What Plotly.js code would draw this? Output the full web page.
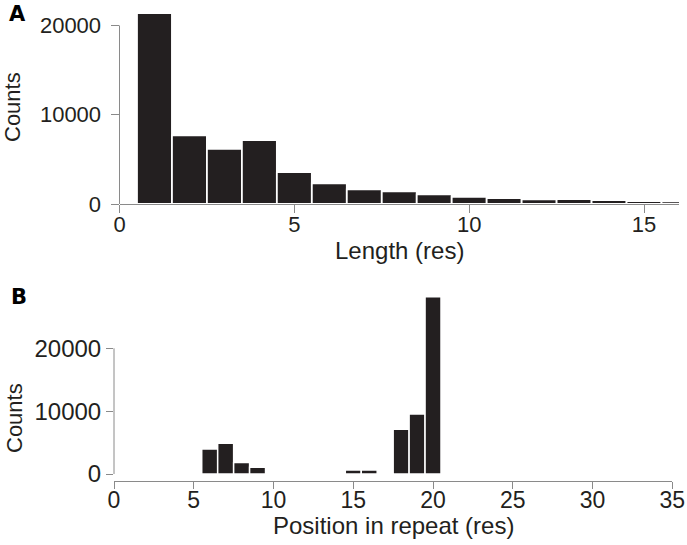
<!DOCTYPE html>
<html>
<head>
<meta charset="utf-8">
<script src="https://cdn.plot.ly/plotly-3.0.1.min.js"></script>
<style>
html,body{margin:0;padding:0;background:#fff;}
#chart{width:687px;height:545px;}
</style>
</head>
<body>
<div id="chart"></div>
<script>
// Panel A: length histogram
const lengthBins = [1, 2, 3, 4, 5, 6, 7, 8, 9, 10, 11, 12, 13, 14, 15, 16];
const lengthCounts = [21380, 7680, 6180, 7150, 3570, 2300, 1630, 1410, 1075, 810, 660, 510, 550, 435, 320, 290];
const lengthTicks = [0, 5, 10, 15];

// Panel B: position in repeat histogram
const positionBins = [6, 7, 8, 9, 15, 16, 18, 19, 20];
const positionCounts = [3990, 4900, 1820, 1075, 620, 620, 7120, 9560, 28190];
const positionTicks = [0, 5, 10, 15, 20, 25, 30, 35];

const countTicks = [0, 10000, 20000];
const countTickLabels = ['0', '10000', '20000'];

const barColor = '#231f20';
const axisColor = '#8a8a8a';
const textColor = '#231f20';
const fontFam = '"Liberation Sans", Arial, Helvetica, sans-serif';

const traces = [
  {
    type: 'bar', x: lengthBins, y: lengthCounts, width: 1,
    marker: {color: barColor, line: {color: '#ffffff', width: 1.8}},
    xaxis: 'x', yaxis: 'y', hoverinfo: 'x+y', showlegend: false
  },
  {
    type: 'bar', x: positionBins, y: positionCounts, width: 1,
    marker: {color: barColor, line: {color: '#ffffff', width: 1.5}},
    xaxis: 'x2', yaxis: 'y2', hoverinfo: 'x+y', showlegend: false
  }
];

const countMax = countTicks[countTicks.length - 1];

const layout = {
  width: 687, height: 545,
  margin: {l: 0, r: 0, t: 0, b: 0},
  paper_bgcolor: '#ffffff', plot_bgcolor: 'rgba(0,0,0,0)',
  font: {family: fontFam, color: textColor},
  bargap: 0,
  showlegend: false,
  xaxis: {
    domain: [119.5/687, 679/687], range: [0, 16],
    tickvals: lengthTicks, ticks: 'outside', ticklen: 8, tickcolor: axisColor, tickwidth: 1,
    showline: true, linecolor: axisColor, linewidth: 1,
    showgrid: false, zeroline: false, fixedrange: true,
    tickfont: {size: 22, color: textColor}, ticklabelstandoff: -7,
    anchor: 'y'
  },
  yaxis: {
    domain: [(545-204)/545, (545-12.1)/545], range: [0, 21500],
    tickvals: countTicks, ticktext: countTickLabels, ticks: 'outside', ticklen: 8, tickcolor: axisColor, tickwidth: 1,
    showline: false, showgrid: false, zeroline: false, fixedrange: true,
    tickfont: {size: 22, color: textColor}, ticklabelstandoff: 5,
    anchor: 'x'
  },
  xaxis2: {
    domain: [114/687, 672.3/687], range: [0, 35],
    tickvals: positionTicks, ticks: 'outside', ticklen: 7, tickcolor: axisColor, tickwidth: 1,
    showline: true, linecolor: axisColor, linewidth: 1,
    showgrid: false, zeroline: false, fixedrange: true,
    tickfont: {size: 23, color: textColor}, ticklabelstandoff: -9,
    anchor: 'y2'
  },
  yaxis2: {
    domain: [(545-481)/545, (545-295.6)/545], range: [-1114, 28385],
    tickvals: countTicks, ticktext: countTickLabels, ticks: 'outside', ticklen: 7, tickcolor: axisColor, tickwidth: 1,
    showline: false, showgrid: false, zeroline: false, fixedrange: true,
    tickfont: {size: 24, color: textColor}, ticklabelstandoff: 0,
    anchor: 'x2'
  },
  shapes: [
    {type: 'line', xref: 'x domain', yref: 'y', x0: 0, x1: 0, y0: 0, y1: countMax,
     line: {color: axisColor, width: 1}},
    {type: 'line', xref: 'x2 domain', yref: 'y2', x0: 0, x1: 0, y0: 0, y1: countMax,
     line: {color: axisColor, width: 1}}
  ],
  annotations: [
    {text: 'A', xref: 'paper', yref: 'paper', x: 7/687, y: 1 - 0/545, xanchor: 'left', yanchor: 'top',
     showarrow: false, font: {family: '"DejaVu Sans", sans-serif', size: 21, color: '#000', weight: 'bold'}},
    {text: 'B', xref: 'paper', yref: 'paper', x: 9/687, y: 1 - 283/545, xanchor: 'left', yanchor: 'top',
     showarrow: false, font: {family: '"DejaVu Sans", sans-serif', size: 21, color: '#000', weight: 'bold'}},
    {text: 'Length (res)', xref: 'paper', yref: 'paper', x: 399/687, y: 1 - 250/545, xanchor: 'center', yanchor: 'middle',
     showarrow: false, font: {size: 24, color: textColor}},
    {text: 'Counts', xref: 'paper', yref: 'paper', x: 12/687, y: 1 - 107/545, xanchor: 'center', yanchor: 'middle',
     textangle: -90, showarrow: false, font: {size: 22, color: textColor}},
    {text: 'Position in repeat (res)', xref: 'paper', yref: 'paper', x: 393/687, y: 1 - 525/545, xanchor: 'center', yanchor: 'middle',
     showarrow: false, font: {size: 24, color: textColor}},
    {text: 'Counts', xref: 'paper', yref: 'paper', x: 14/687, y: 1 - 418/545, xanchor: 'center', yanchor: 'middle',
     textangle: -90, showarrow: false, font: {size: 22, color: textColor}}
  ]
};

Plotly.newPlot('chart', traces, layout, {displayModeBar: false, staticPlot: true});
</script>
</body>
</html>
